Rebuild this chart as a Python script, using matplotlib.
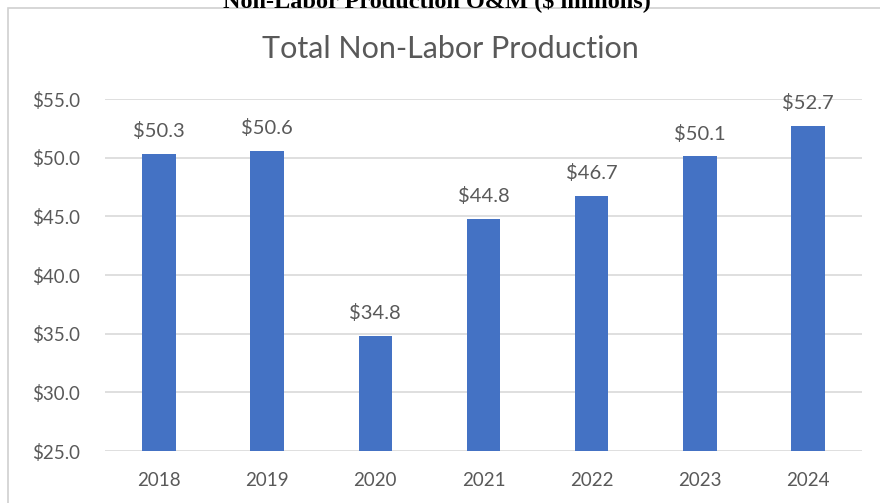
import numpy as np
import matplotlib.pyplot as plt
from matplotlib.patches import Rectangle

plt.rcParams['font.family'] = ['Lato', 'DejaVu Sans']

lata = ['2018', '2019', '2020', '2021', '2022', '2023', '2024']
wartosci = [50.3, 50.6, 34.8, 44.8, 46.7, 50.1, 52.7]
yticks = [25, 30, 35, 40, 45, 50, 55]

szary = '#595959'

fig = plt.figure(figsize=(8.8, 5.03), dpi=100)
ax = fig.add_axes([105/880, 1 - 451/503, 757/880, (451 - 99)/503])

x = np.arange(len(lata))
bars = ax.bar(x, wartosci, width=0.31, color='#4472C4', zorder=2)

for xi, v in zip(x, wartosci):
    ax.annotate(f'${v:.1f}', (xi, v), xytext=(0, 10), textcoords='offset points',
                ha='center', va='bottom', fontsize=14.5, color=szary)

ax.set_xlim(-0.5, len(lata) - 0.5)
ax.set_ylim(25, 55)
ax.set_yticks(yticks)
ax.set_yticklabels([f'${t:.1f}' for t in yticks])
ax.set_xticks(x)
ax.set_xticklabels(lata)
ax.tick_params(axis='both', length=0, labelsize=13.5, labelcolor=szary)
ax.tick_params(axis='y', pad=18)
ax.tick_params(axis='x', pad=15)
ax.grid(axis='y', color='#D9D9D9', linewidth=1.2, zorder=0)
for s in ax.spines.values():
    s.set_visible(False)

# ramka wykresu
fig.patches.append(Rectangle((8/880, -0.1), 1.0, 1 - 8/503 + 0.1, transform=fig.transFigure,
                             fill=False, edgecolor='#D0D0D0', linewidth=1.2))

fig.text(450/880, 1 - 49/503, 'Total Non-Labor Production', ha='center', va='center',
         fontsize=22, color=szary)
# naglowek ucięty u góry, jak w oryginale
fig.text(437/880, 1 - 1/503, 'Non-Labor Production O&M ($ millions)', ha='center',
         va='center', fontsize=17.5, family='Liberation Serif', weight='bold', color='black')

fig.savefig('out.png', dpi=100)
